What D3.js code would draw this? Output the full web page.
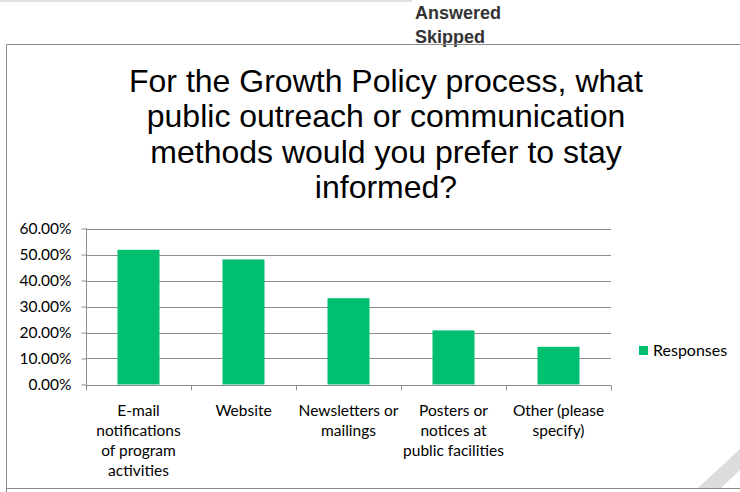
<!DOCTYPE html>
<html>
<head>
<meta charset="utf-8">
<script src="https://cdn.jsdelivr.net/npm/d3@7"></script>
<style>
  body { margin: 0; background: #fff; }
  svg { display: block; }
</style>
</head>
<body>
<svg id="chart"></svg>
<script>
// data
let categories = [
    ["E-mail", "notifications", "of program", "activities"],
    ["Website"],
    ["Newsletters or", "mailings"],
    ["Posters or", "notices at", "public facilities"],
    ["Other (please", "specify)"]
];
let responses = [0.518, 0.481, 0.332, 0.208, 0.145];
let yTicks = [0, 0.1, 0.2, 0.3, 0.4, 0.5, 0.6];
let titleLines = [
    "For the Growth Policy process, what",
    "public outreach or communication",
    "methods would you prefer to stay",
    "informed?"
];
let headerLabels = ["Answered", "Skipped"];
let seriesName = "Responses";

let width = 740;
let height = 492;
let green = "#00bf6f";
let grid = "#8c8c8c";
let labelFont = "Lato, 'Liberation Sans', sans-serif";

let svg = d3.select("#chart")
    .attr("width", width)
    .attr("height", height);

//faint line at the very top
svg.append("line")
    .attr("x1", 0).attr("x2", 412)
    .attr("y1", 1).attr("y2", 1)
    .attr("stroke", "#e3e3e3")
    .attr("stroke-width", 2);

//answered / skipped header
svg.append("g").selectAll("text")
    .data(headerLabels)
    .enter().append("text")
    .attr("x", 415)
    .attr("y", (d, i) => 19 + i * 24)
    .attr("font-family", "'Liberation Sans', Arial, sans-serif")
    .attr("font-weight", "bold")
    .attr("font-size", 18)
    .attr("fill", "#333")
    .text(d => d);

//chart box
svg.append("path")
    .attr("d", "M6.5,492 V44.5 H740 M6.5,488.5 H740")
    .attr("fill", "none")
    .attr("stroke", "#8a8a8a")
    .attr("stroke-width", 1);

//title
svg.append("g").selectAll("text")
    .data(titleLines)
    .enter().append("text")
    .attr("x", 386)
    .attr("y", (d, i) => 92 + i * 35.3)
    .attr("text-anchor", "middle")
    .attr("font-family", "'Liberation Sans', Arial, sans-serif")
    .attr("font-size", 32)
    .attr("fill", "#000")
    .text(d => d);

//scales
let x = d3.scaleBand()
    .domain(d3.range(categories.length))
    .range([86, 611])
    .paddingInner(0.6)
    .paddingOuter(0.3);

let xb = d3.scaleBand()
    .domain(d3.range(categories.length))
    .range([86, 611]);

let y = d3.scaleLinear()
    .domain([0, 0.6])
    .range([384.5, 228.5]);

//gridlines
svg.append("g").selectAll("line")
    .data(yTicks.slice(1))
    .enter().append("line")
    .attr("x1", 86).attr("x2", 611)
    .attr("y1", d => Math.round(y(d)) + 0.5)
    .attr("y2", d => Math.round(y(d)) + 0.5)
    .attr("stroke", grid);

//bars
svg.append("g").selectAll("rect")
    .data(responses)
    .enter().append("rect")
    .attr("x", (d, i) => x(i))
    .attr("y", d => y(d))
    .attr("width", x.bandwidth())
    .attr("height", d => y(0) - y(d))
    .attr("fill", green);

//y axis
let yAxis = svg.append("g")
    .attr("transform", "translate(86.5,0)")
    .call(d3.axisLeft(y)
        .tickValues(yTicks)
        .tickFormat(d3.format(".2%"))
        .tickSize(5)
        .tickPadding(10));
yAxis.select(".domain").attr("stroke", grid).attr("d", "M0," + y(0.6) + "V" + (y(0) + 0.5));
yAxis.selectAll(".tick line").attr("stroke", grid);
yAxis.selectAll(".tick text")
    .attr("font-family", labelFont)
    .attr("font-size", 15.5)
    .attr("fill", "#000");

//x axis
let xAxis = svg.append("g")
    .attr("transform", "translate(0," + (Math.round(y(0)) + 0.5) + ")");
xAxis.append("line")
    .attr("x1", 86).attr("x2", 611)
    .attr("stroke", grid);
xAxis.selectAll(".tk")
    .data(d3.range(categories.length + 1))
    .enter().append("line")
    .attr("class", "tk")
    .attr("x1", d => Math.round(86 + d * xb.step()) + 0.5)
    .attr("x2", d => Math.round(86 + d * xb.step()) + 0.5)
    .attr("y1", 0).attr("y2", 5)
    .attr("stroke", grid);

let labels = xAxis.selectAll(".lab")
    .data(categories)
    .enter().append("text")
    .attr("class", "lab")
    .attr("text-anchor", "middle")
    .attr("font-family", labelFont)
    .attr("font-size", 15.5)
    .attr("fill", "#000");
labels.selectAll("tspan")
    .data((d, i) => d.map(t => ({t: t, i: i})))
    .enter().append("tspan")
    .attr("x", d => xb(d.i) + xb.bandwidth() / 2)
    .attr("y", (d, j) => 30 + j * 20)
    .text(d => d.t);

//legend
let legend = svg.append("g").attr("transform", "translate(639,346)");
legend.append("rect")
    .attr("width", 9).attr("height", 9)
    .attr("fill", green);
legend.append("text")
    .attr("x", 14).attr("y", 9.5)
    .attr("font-family", labelFont)
    .attr("font-size", 16)
    .attr("fill", "#000")
    .text(seriesName);

//page curl stripe in the corner
svg.append("polygon")
    .attr("points", "698,488 740,449 740,470 721,488")
    .attr("fill", "#dcdcdc");
</script>
</body>
</html>
